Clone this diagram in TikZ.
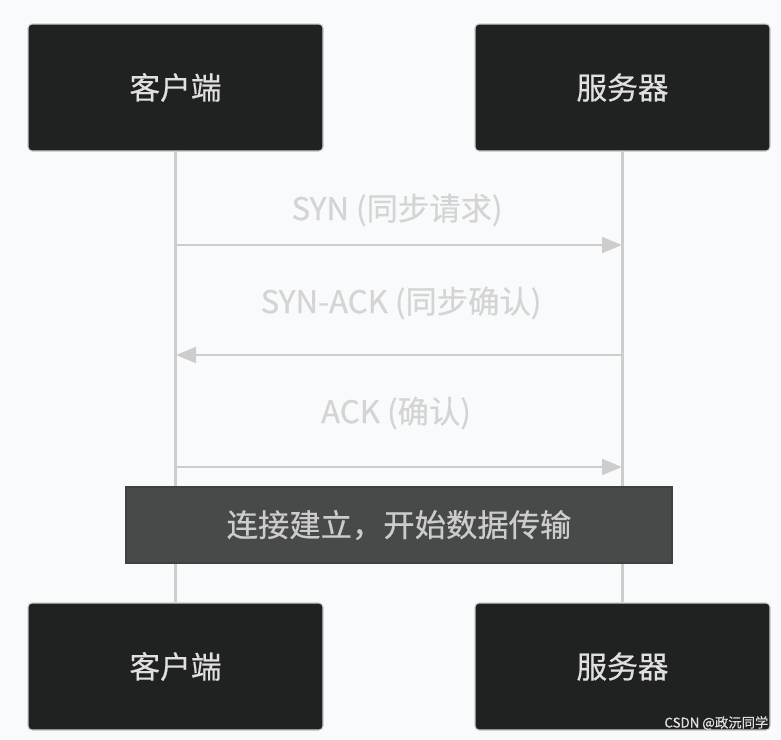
\documentclass[tikz,border=0pt]{standalone}
\usepackage{fontspec}
\setmainfont{Noto Sans CJK SC}[FakeBold=0.5]
\usepackage{xcolor}
\usetikzlibrary{arrows.meta, positioning}

\definecolor{bgcol}{HTML}{F9FAFB}
\definecolor{boxcol}{HTML}{202121}
\definecolor{notecol}{HTML}{484A49}
\definecolor{linecol}{HTML}{CDCDCD}
\definecolor{textcol}{HTML}{D4D4D4}

\tikzset{
  actor/.style={draw=linecol, line width=0.8pt, fill=boxcol, rounded corners=3pt,
    minimum width=221.25pt, minimum height=95.25pt, text=white!88!black, font=\fontsize{23}{27}\selectfont},
  note/.style={draw=black!75, line width=1pt, fill=notecol,
    minimum width=409.5pt, minimum height=57pt, text=white!80!black, font=\fontsize{23.5}{27}\selectfont},
  life/.style={linecol, line width=2pt},
  msg/.style={linecol, line width=1.5pt, -{Triangle[length=15pt, width=12pt]}},
  lbl/.style={text=textcol, font=\fontsize{23.5}{27}\selectfont}
}

\begin{document}
\begin{tikzpicture}[x=0.75pt, y=-0.75pt, node distance=335.25pt, on grid]
        \fill[bgcol] (0,0) rectangle (781,739);
        \useasboundingbox (0,0) rectangle (781,739);

        \node[actor] (client)  at (175.5,87.5) {客户端};
        \node[actor] (server)  [right=of client] {服务器};
        \node[actor] (client2) [below=434.25pt of client] {客户端};
        \node[actor] (server2) [below=434.25pt of server] {服务器};

        \draw[life] (client) -- (client2);
        \draw[life] (server) -- (server2);

        % handshake
        \coordinate (c1) at (176,245);  \coordinate (s1) at (622,245);
        \coordinate (c2) at (176,355);  \coordinate (s2) at (622,355);
        \coordinate (c3) at (176,467);  \coordinate (s3) at (622,467);

        \draw[msg] (c1) -- (s1);
        \draw[msg] (s2) -- (c2);
        \draw[msg] (c3) -- (s3);

        \node[lbl] (syn)    at (397,210) {SYN (同步请求)};
        \node[lbl] (synack) at (401,303) {SYN-ACK (同步确认)};
        \node[lbl] (ack)    at (396,413) {ACK (确认)};

        \node[note] (est) at (399,525) {连接建立，开始数据传输};

        \node[text=white!88!black, font=\fontsize{10}{12}\selectfont, anchor=east] (mark) at (773,723) {CSDN @政沅同学};
    \end{tikzpicture}
\end{document}
